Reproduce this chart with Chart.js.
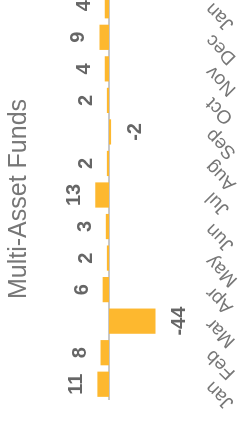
<!DOCTYPE html>
<html>
<head>
<meta charset="utf-8">
<script src="https://cdn.jsdelivr.net/npm/chart.js@4.4.0/dist/chart.umd.min.js"></script>
<style>
  html, body { margin: 0; padding: 0; background: #fff; overflow: hidden; }
  body { width: 248px; height: 423px; position: relative; }
  #wrap {
    position: absolute; left: 0; top: 0;
    width: 453px; height: 248px;
    transform-origin: 0 0;
    transform: translate(0, 423px) rotate(-90deg);
  }
</style>
</head>
<body>
<div id="wrap"><canvas id="barChart" width="453" height="248"></canvas></div>
<script>
const chartTitle = "Multi-Asset Funds";
const months = ["Jan", "Feb", "Mar", "Apr", "May", "Jun", "Jul", "Aug", "Sep", "Oct", "Nov", "Dec", "Jan"];
const flows = [11, 8, -44, 6, 2, 3, 13, 2, -2, 2, 4, 9, 4];

const fontFamily = "'Liberation Sans', Arial, Helvetica, sans-serif";

// zero line + value labels above / below each bar
const zeroLine = {
  id: "zeroLine",
  beforeDatasetsDraw(chart) {
    const ctx = chart.ctx;
    const area = chart.chartArea;
    const y = chart.scales.y.getPixelForValue(0);
    ctx.save();
    ctx.strokeStyle = "#c8c8c8";
    ctx.lineWidth = 2;
    ctx.beginPath();
    ctx.moveTo(area.left, y);
    ctx.lineTo(area.right, y);
    ctx.stroke();
    ctx.restore();
  },
};

const valueLabels = {
  id: "valueLabels",
  afterDatasetsDraw(chart) {
    const ctx = chart.ctx;
    const meta = chart.getDatasetMeta(0);
    ctx.save();
    ctx.font = "bold 20px " + fontFamily;
    ctx.fillStyle = "#666";
    ctx.textAlign = "center";
    ctx.textBaseline = "alphabetic";
    meta.data.forEach(function (bar, i) {
      const v = flows[i];
      const y = v >= 0 ? bar.y - 15 : bar.y + 30;
      ctx.fillText(String(v), bar.x, y);
    });
    ctx.restore();
  },
};

const ctxBar = document.getElementById("barChart").getContext("2d");
const barChart = new Chart(ctxBar, {
  type: "bar",
  data: {
    labels: months,
    datasets: [
      {
        data: flows,
        backgroundColor: "#FDB82F",
        categoryPercentage: 0.8,
        barPercentage: 1.0,
      },
    ],
  },
  options: {
    responsive: false,
    animation: false,
    layout: { padding: { left: 15, right: 20 } },
    plugins: {
      legend: { display: false },
      tooltip: { enabled: false },
      title: {
        display: true,
        text: chartTitle,
        color: "#777",
        font: { size: 25, weight: "normal", family: fontFamily },
        padding: { top: 4, bottom: 8 },
      },
    },
    scales: {
      x: {
        grid: { display: false },
        border: { display: false },
        ticks: {
          color: "#777",
          font: { size: 19, family: fontFamily },
          minRotation: 45,
          maxRotation: 45,
          autoSkip: false,
          padding: -3,
        },
        afterFit: function (scale) {
          scale.height = 52;
        },
      },
      y: {
        min: -82.5,
        max: 63.5,
        grid: { display: false },
        border: { display: false },
        ticks: { display: false },
      },
    },
  },
  plugins: [zeroLine, valueLabels],
});
</script>
</body>
</html>
